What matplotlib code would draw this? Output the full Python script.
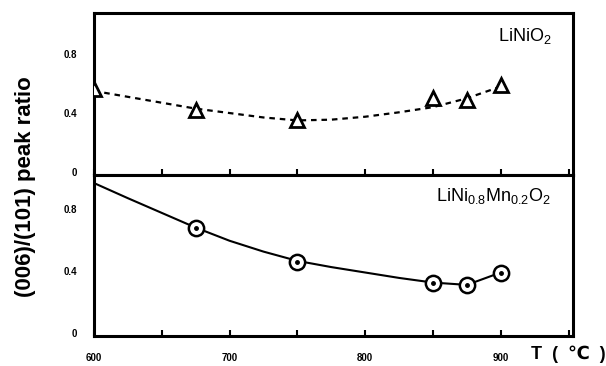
import numpy as np
import matplotlib
matplotlib.use("Agg")
import matplotlib.pyplot as plt
from matplotlib.ticker import MultipleLocator

plt.rcParams['font.family'] = ['Liberation Sans', 'DejaVu Sans']
plt.rcParams['mathtext.default'] = 'regular'

# LiNiO2 (upper panel): measured points and the dashed guide curve
t_nio = [600, 675, 750, 850, 875, 900]
r_nio = [0.56, 0.42, 0.35, 0.50, 0.49, 0.59]
t_nio_curve = [600, 625, 650, 675, 700, 725, 750, 775, 800, 825, 850, 875, 900]
r_nio_curve = [0.55, 0.51, 0.47, 0.43, 0.40, 0.37, 0.35, 0.355, 0.375, 0.405, 0.44, 0.50, 0.58]

# LiNi0.8Mn0.2O2 (lower panel): measured points and the solid guide curve
t_mn = [675, 750, 850, 875, 900]
r_mn = [0.68, 0.46, 0.32, 0.31, 0.39]
t_mn_curve = [602, 625, 650, 675, 700, 725, 750, 775, 800, 825, 850, 875, 900]
r_mn_curve = [0.96, 0.87, 0.775, 0.68, 0.595, 0.525, 0.465, 0.425, 0.39, 0.355, 0.325, 0.31, 0.39]

x_ticks = [600, 700, 800, 900]
y_ticks = [0, 0.4, 0.8]
y_ticklabels = ['0', '0.4', '0.8']

fig = plt.figure(figsize=(6.06, 3.66), dpi=100)
ax_top = fig.add_axes([0.155, 0.522, 0.79, 0.443])
ax_bot = fig.add_axes([0.155, 0.082, 0.79, 0.440], sharex=ax_top)

for ax in (ax_top, ax_bot):
    for sp in ax.spines.values():
        sp.set_linewidth(2.2)
    ax.set_xlim(600, 953)
    ax.xaxis.set_major_locator(MultipleLocator(100))
    ax.xaxis.set_minor_locator(MultipleLocator(50))
    ax.tick_params(axis='x', which='both', direction='in', length=4, width=1.5,
                   top=False)
    ax.tick_params(axis='y', direction='in', length=0, pad=12)
    ax.set_yticks(y_ticks)
    ax.set_yticklabels(y_ticklabels, fontsize=7, fontweight='bold')

ax_top.set_ylim(-0.02, 1.08)
ax_bot.set_ylim(-0.02, 1.02)
ax_top.tick_params(axis='x', labelbottom=False)

ax_bot.set_xticks(x_ticks)
ax_bot.set_xticklabels([str(v) for v in x_ticks], fontsize=7, fontweight='bold')
ax_bot.tick_params(axis='x', pad=12)

# upper panel
ax_top.plot(t_nio_curve, r_nio_curve, color='black', lw=1.6,
            linestyle=(0, (2.5, 2.2)))
ax_top.plot(t_nio, r_nio, linestyle='none', marker='^', markersize=10,
            markerfacecolor='white', markeredgecolor='black',
            markeredgewidth=2, zorder=3)
ax_top.text(0.955, 0.86, 'LiNiO$_2$', transform=ax_top.transAxes,
            ha='right', va='center', fontsize=13)

# lower panel
ax_bot.plot(t_mn_curve, r_mn_curve, color='black', lw=1.5)
ax_bot.plot(t_mn, r_mn, linestyle='none', marker='o', markersize=11,
            markerfacecolor='white', markeredgecolor='black',
            markeredgewidth=1.8, zorder=3)
ax_bot.plot(t_mn, r_mn, linestyle='none', marker='o', markersize=2.5,
            color='black', zorder=4)
ax_bot.text(0.955, 0.87, 'LiNi$_{0.8}$Mn$_{0.2}$O$_2$', transform=ax_bot.transAxes,
            ha='right', va='center', fontsize=13)

fig.text(0.042, 0.49, '(006)/(101) peak ratio', rotation=90, ha='center',
         va='center', fontsize=16, fontweight='bold')
fig.text(0.937, 0.033, 'T  (  \u2103  )', ha='center', va='center',
         fontsize=13, fontweight='bold', family=['Liberation Sans', 'DejaVu Sans'])

fig.savefig('out.png', dpi=100)
